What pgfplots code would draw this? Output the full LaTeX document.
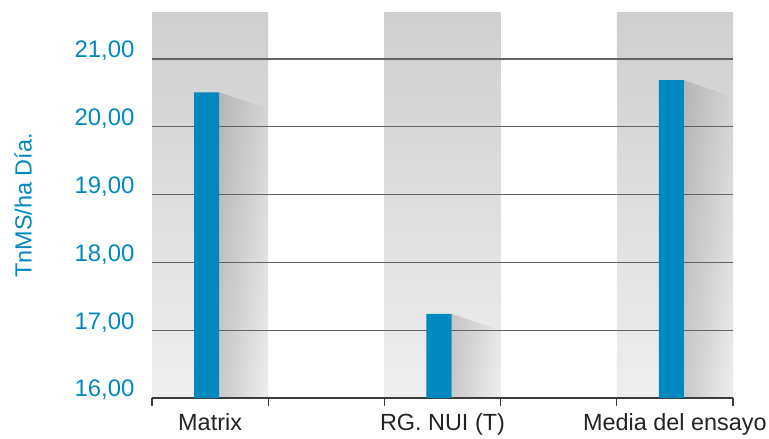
\documentclass[border=0pt]{standalone}
\usepackage{pgfplots}
\pgfplotsset{compat=1.18}
\usepackage{fontspec}
\setmainfont{Liberation Sans}
\usetikzlibrary{fadings}
\definecolor{barblue}{RGB}{0,137,191}
\definecolor{bandtop}{RGB}{207,207,207}
\definecolor{bandbot}{RGB}{238,238,238}
\definecolor{gridgray}{RGB}{100,100,100}
\definecolor{axisgray}{RGB}{60,60,60}
\definecolor{labelgray}{RGB}{35,35,35}

\begin{document}
\begin{tikzpicture}
\begin{axis}[
  set layers,
  scale only axis,
  width=581bp, height=385bp,
  xmin=-0.25, xmax=2.25,
  ymin=16, ymax=21.68,
  axis x line*=bottom,
  axis y line*=left,
  y axis line style={draw=none},
  x axis line style={axisgray, line width=1.4bp, -},
  xtick={0,1,2},
  xticklabels={Matrix, RG. NUI (T), Media del ensayo},
  minor xtick={-0.25,0.25,0.75,1.25,1.75,2.25},
  xtick align=outside,
  major x tick style={draw=none},
  minor x tick style={axisgray, line width=1.2bp},
  minor tick length=8bp,
  ytick={16,17,18,19,20,21},
  ytick style={draw=none},
  ymajorgrids,
  major grid style={gridgray, line width=1.2bp},
  /pgf/number format/fixed,
  /pgf/number format/fixed zerofill,
  /pgf/number format/precision=2,
  /pgf/number format/use comma,
  /pgf/number format/assume math mode=true,
  xticklabel style={font=\fontsize{23.5}{27}\selectfont, color=labelgray, anchor=base, yshift=-28bp},
  yticklabel style={font=\fontsize{24}{28}\selectfont, color=barblue, anchor=east, xshift=-14bp, yshift=8bp},
  ylabel={TnMS/ha Día.},
  every axis y label/.style={at={(axis description cs:-0.222,0.5)}, rotate=90, anchor=center,
    font=\fontsize{23.5}{27}\selectfont, color=barblue},
]
% category bands
\addplot[on layer=axis background, draw=none, top color=bandtop, bottom color=bandbot]
  coordinates {(-0.25,16) (-0.25,21.68) (0.25,21.68) (0.25,16)} -- cycle;
\addplot[on layer=axis background, draw=none, top color=bandtop, bottom color=bandbot]
  coordinates {(0.75,16) (0.75,21.68) (1.25,21.68) (1.25,16)} -- cycle;
\addplot[on layer=axis background, draw=none, top color=bandtop, bottom color=bandbot]
  coordinates {(1.75,16) (1.75,21.68) (2.25,21.68) (2.25,16)} -- cycle;

% bar shadows
\addplot[on layer=axis background, draw=none, fill=black, fill opacity=0.15, path fading=east]
  coordinates {(0.039,16) (0.039,20.51) (0.25,20.27) (0.25,16)} -- cycle;
\addplot[on layer=axis background, draw=none, fill=black, fill opacity=0.15, path fading=east]
  coordinates {(1.039,16) (1.039,17.24) (1.25,17.00) (1.25,16)} -- cycle;
\addplot[on layer=axis background, draw=none, fill=black, fill opacity=0.15, path fading=east]
  coordinates {(2.039,16) (2.039,20.69) (2.25,20.44) (2.25,16)} -- cycle;

% bars
\addplot[ybar, bar width=0.108, bar shift=-0.015, fill=barblue, draw=none]
  coordinates {(0,20.51) (1,17.24) (2,20.69)};
\end{axis}
\pgfresetboundingbox
\useasboundingbox ([shift={(-152bp,-41bp)}]current axis.south west)
  rectangle ([shift={(36bp,13bp)}]current axis.north east);
\end{tikzpicture}
\end{document}
